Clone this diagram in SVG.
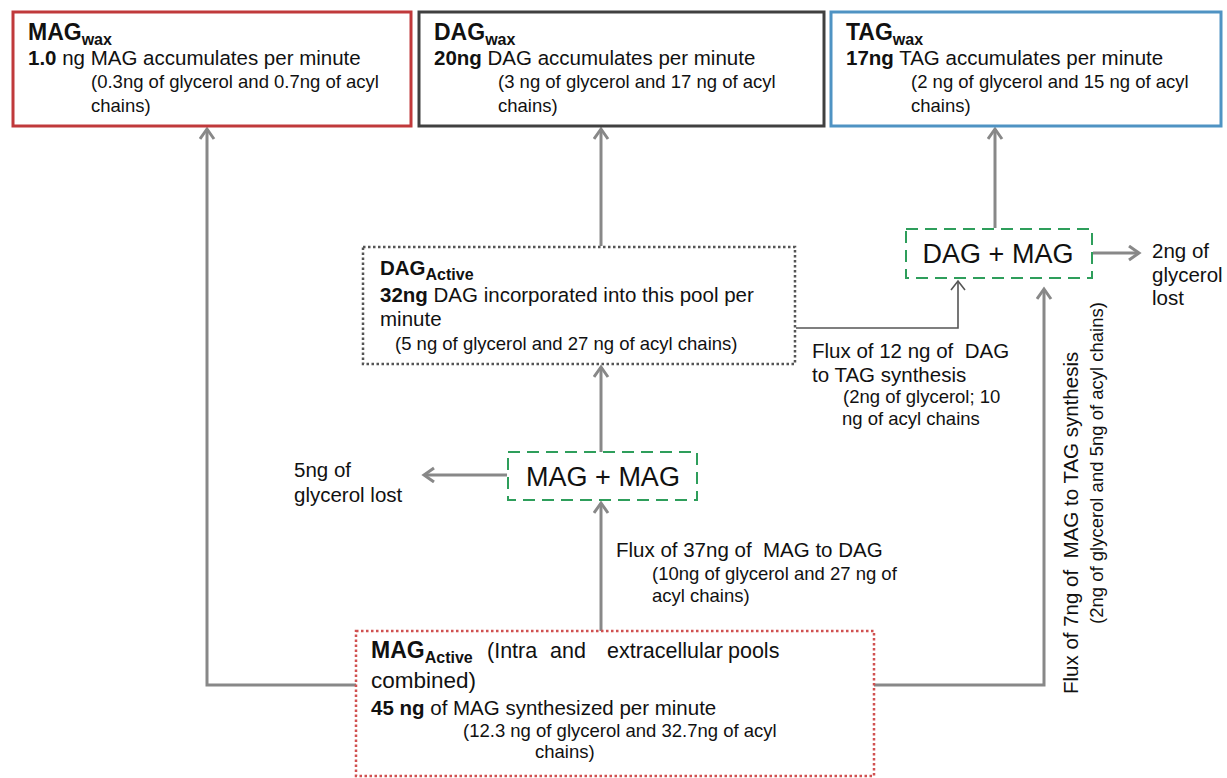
<svg xmlns="http://www.w3.org/2000/svg" width="1227" height="778" viewBox="0 0 1227 778">
<defs>
<style>
text{font-family:"Liberation Sans",Arial,sans-serif;fill:#111}
.t{font-size:23px;font-weight:bold}
.t2{font-size:20.5px;font-weight:bold}
.sub{font-size:16px;font-weight:bold}
.m{font-size:20.5px}
.s{font-size:18.5px}
.b{font-weight:bold}
.big{font-size:27px}
.c{fill:none;stroke:#888;stroke-width:3}
.thin{fill:none;stroke:#555;stroke-width:1.6}
</style>
<marker id="ah" markerUnits="userSpaceOnUse" markerWidth="20" markerHeight="20" refX="12" refY="8" orient="auto">
<path d="M2,1 L12,8 L2,15" fill="none" stroke="#888" stroke-width="3"/>
</marker>
<marker id="aht" markerUnits="userSpaceOnUse" markerWidth="20" markerHeight="20" refX="11" refY="8" orient="auto">
<path d="M2,1 L11,8 L2,15" fill="none" stroke="#555" stroke-width="1.6"/>
</marker>
</defs>
<rect width="1227" height="778" fill="#fff"/>

<g id="connectors">
<path class="c" d="M356,685 H207 V129" marker-end="url(#ah)"/>
<path class="c" d="M601,246 V129" marker-end="url(#ah)"/>
<path class="c" d="M995,228 V129" marker-end="url(#ah)"/>
<path class="c" d="M601,452 V367" marker-end="url(#ah)"/>
<path class="c" d="M601,631 V503" marker-end="url(#ah)"/>
<path class="c" d="M507,475 H424" marker-end="url(#ah)"/>
<path class="c" d="M1093,253 H1139" marker-end="url(#ah)"/>
<path class="c" d="M874,685 H1044 V289" marker-end="url(#ah)"/>
<path class="thin" d="M796,328 H958 V281" marker-end="url(#aht)"/>
</g>

<g id="mag-wax">
<rect x="13" y="12" width="398" height="114" fill="#fff" stroke="#c0393b" stroke-width="3"/>
<text x="28" y="40"><tspan class="t">MAG</tspan><tspan class="sub" dy="5">wax</tspan></text>
<text class="m" x="28" y="65"><tspan class="b">1.0</tspan> ng MAG accumulates per minute</text>
<text class="s" x="91" y="88">(0.3ng of glycerol and 0.7ng of acyl</text>
<text class="s" x="91" y="112">chains)</text>
</g>

<g id="dag-wax">
<rect x="419" y="12" width="405" height="114" fill="#fff" stroke="#404040" stroke-width="3"/>
<text x="434" y="40"><tspan class="t">DAG</tspan><tspan class="sub" dy="5">wax</tspan></text>
<text class="m" x="434" y="65"><tspan class="b">20ng</tspan> DAG accumulates per minute</text>
<text class="s" x="498" y="88">(3 ng of glycerol and 17 ng of acyl</text>
<text class="s" x="498" y="112">chains)</text>
</g>

<g id="tag-wax">
<rect x="831" y="12" width="390" height="114" fill="#fff" stroke="#4f93c3" stroke-width="3"/>
<text x="846" y="40"><tspan class="t">TAG</tspan><tspan class="sub" dy="5">wax</tspan></text>
<text class="m" x="846" y="65"><tspan class="b">17ng</tspan> TAG accumulates per minute</text>
<text class="s" x="911" y="88">(2 ng of glycerol and 15 ng of acyl</text>
<text class="s" x="911" y="112">chains)</text>
</g>

<g id="dag-active">
<rect x="363" y="247" width="432" height="117" fill="#fff" stroke="#555" stroke-width="2.5" stroke-dasharray="2.5,2.5"/>
<text x="380" y="275"><tspan class="t2">DAG</tspan><tspan class="sub" dy="5">Active</tspan></text>
<text class="m" x="380" y="302"><tspan class="b">32ng</tspan> DAG incorporated into this pool per</text>
<text class="m" x="380" y="326">minute</text>
<text class="s" x="395" y="350">(5 ng of glycerol and 27 ng of acyl chains)</text>
</g>

<g id="dag-mag">
<rect x="906" y="229" width="186" height="49" fill="#fff" stroke="#2e9e5b" stroke-width="2" stroke-dasharray="12,7"/>
<text class="big" x="998" y="263" text-anchor="middle">DAG + MAG</text>
</g>

<g id="glycerol-lost-2">
<text class="m" x="1152" y="258">2ng of</text>
<text class="m" x="1152" y="282">glycerol</text>
<text class="m" x="1152" y="305">lost</text>
</g>

<g id="flux-dag-tag">
<text class="m" x="812" y="358">Flux of 12 ng of &#160;DAG</text>
<text class="m" x="812" y="382">to TAG synthesis</text>
<text class="s" x="843" y="403">(2ng of glycerol; 10</text>
<text class="s" x="842" y="425">ng of acyl chains</text>
</g>

<g id="mag-mag">
<rect x="508" y="452" width="189" height="48" fill="#fff" stroke="#2e9e5b" stroke-width="2" stroke-dasharray="12,7"/>
<text class="big" x="603" y="486" text-anchor="middle">MAG + MAG</text>
</g>

<g id="glycerol-lost-5">
<text class="m" x="294" y="477">5ng of</text>
<text class="m" x="294" y="502">glycerol lost</text>
</g>

<g id="flux-mag-dag">
<text class="m" x="616" y="557">Flux of 37ng of &#160;MAG to DAG</text>
<text class="s" x="652" y="580">(10ng of glycerol and 27 ng of</text>
<text class="s" x="652" y="602">acyl chains)</text>
</g>

<g id="flux-mag-tag">
<text class="m" transform="translate(1078,694) rotate(-90)">Flux of 7ng of &#160;MAG to TAG synthesis</text>
<text class="s" transform="translate(1103,624) rotate(-90)">(2ng of glycerol and 5ng of acyl chains)</text>
</g>

<g id="mag-active">
<rect x="356" y="631" width="518" height="145" fill="#fff" stroke="#d05050" stroke-width="2.5" stroke-dasharray="2.5,2.5"/>
<text x="371" y="658"><tspan class="t">MAG</tspan><tspan class="sub" dy="5">Active</tspan></text>
<text style="font-size:21.5px" y="658"><tspan x="487">(Intra</tspan><tspan x="550">and</tspan><tspan x="607">extracellular</tspan><tspan x="728">pools</tspan></text>
<text style="font-size:22.5px" x="371" y="688">combined)</text>
<text class="m" x="371" y="715"><tspan class="b">45 ng</tspan> of MAG synthesized per minute</text>
<text class="s" x="463" y="737">(12.3 ng of glycerol and 32.7ng of acyl</text>
<text class="s" x="535" y="758">chains)</text>
</g>
</svg>
